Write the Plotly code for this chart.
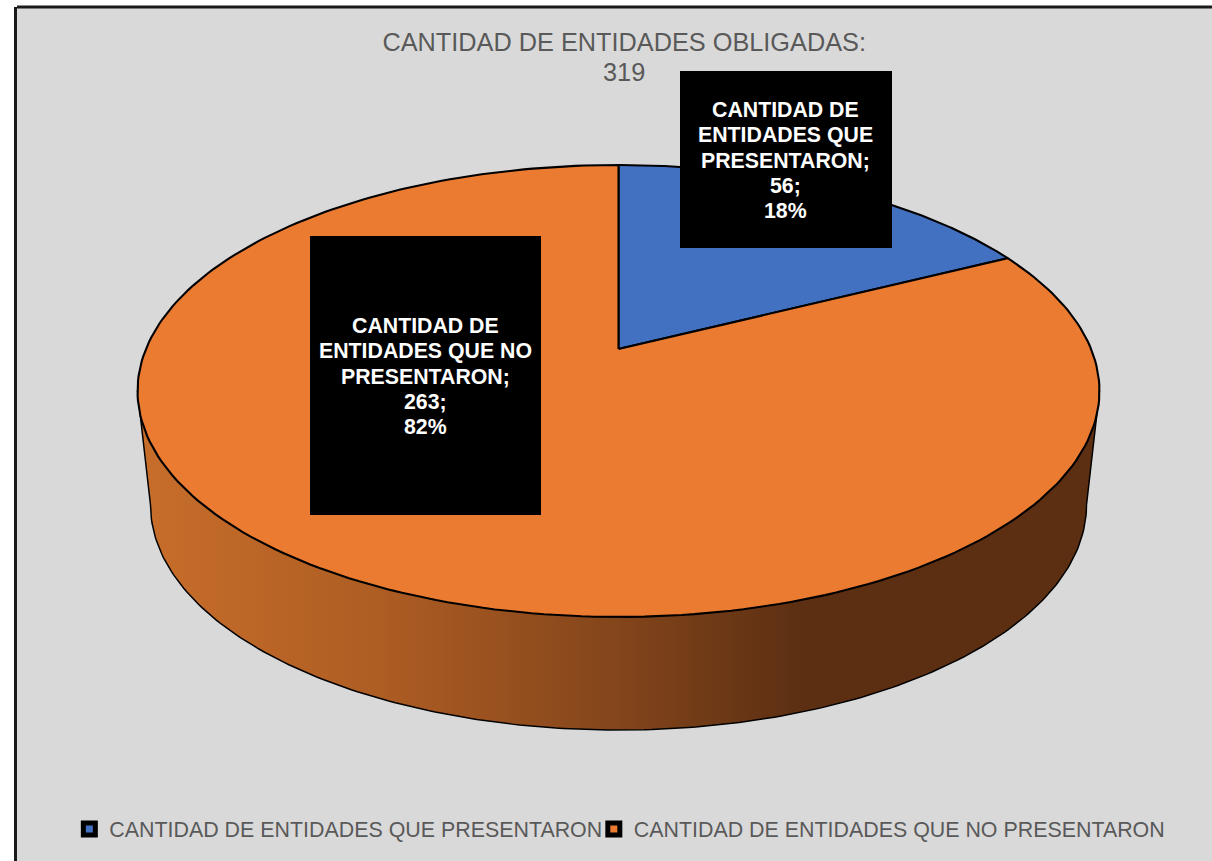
import numpy as np
import plotly.graph_objects as go

# --- data ---
title_text = "CANTIDAD DE ENTIDADES OBLIGADAS:"
categories = ["CANTIDAD DE ENTIDADES QUE PRESENTARON", "CANTIDAD DE ENTIDADES QUE NO PRESENTARON"]
values = [56, 263]
label_lines = [["CANTIDAD DE", "ENTIDADES QUE", "PRESENTARON;"],
               ["CANTIDAD DE", "ENTIDADES QUE NO", "PRESENTARON;"]]
colors = ["#4371C1", "#EB7B30"]

# --- drawing setup: a tilted disc seen in perspective ---
CX, CY, RA, RB, K = 618.5, 349.0, 472.6, 218.2, 0.1858
BOT_CX, BOT_CY, BOT_RX, BOT_RY = 618.5, 505.0, 468.0, 225.0
TOP_CY, TOP_RX = 391.0, 481.0
GREY, FRAME, TEXT = "#D9D9D9", "#1A1A1A", "#595959"
FONT = "Liberation Sans, Arial, sans-serif"


def rim(theta):
    """Theta is clockwise from the top, in radians; returns page-like coordinates."""
    u, v = np.sin(theta), np.cos(theta)
    d = 1 + K * v
    return CX + RA * u / d, CY - RB * v / d


total = sum(values)
shares = np.array(values) / total
edges = np.concatenate([[0], np.cumsum(shares)]) * 2 * np.pi

fig = go.Figure()

# side wall
t = np.linspace(np.pi, 0, 200)
wall_x = np.concatenate([BOT_CX + BOT_RX * np.cos(t), [CX + TOP_RX, CX - TOP_RX, BOT_CX - BOT_RX]])
wall_y = np.concatenate([BOT_CY + BOT_RY * np.sin(t), [TOP_CY, TOP_CY, BOT_CY]])
fig.add_trace(go.Scatter(
    x=wall_x, y=wall_y, mode="lines", fill="toself", hoverinfo="skip", showlegend=False,
    line=dict(color="#000000", width=1.5),
    fillgradient=dict(type="horizontal", colorscale=[
        [0.0, "#C86E2B"], [0.25, "#AE5D23"], [0.5, "#83451B"], [0.69, "#5C2F12"], [1.0, "#5C2F12"]]),
))

# top face slices
for i, (cat, col) in enumerate(zip(categories, colors)):
    th = np.linspace(edges[i], edges[i + 1], 240)
    rx, ry = rim(th)
    fig.add_trace(go.Scatter(
        x=np.concatenate([[CX], rx, [CX]]), y=np.concatenate([[CY], ry, [CY]]),
        mode="lines", fill="toself", fillcolor=col, name=cat,
        line=dict(color="#000000", width=2.1), showlegend=False,
        hovertemplate=f"{cat}: {values[i]}<extra></extra>",
    ))

# legend keys
legend_ids = ["legend", "legend2"]
for cat, col, lid in zip(categories, colors, legend_ids):
    fig.add_trace(go.Scatter(
        x=[None], y=[None], mode="markers", name=cat, legend=lid,
        marker=dict(symbol="square", size=12, color=col, line=dict(color="#000000", width=5)),
    ))

# data labels: black box plus one text per line
boxes = [(680, 71, 892, 248), (310, 236, 541, 515)]
LINE_STEP = 25.3
for lines, val, sh, (x0, y0, x1, y1) in zip(label_lines, values, shares, boxes):
    fig.add_shape(type="rect", xref="x", yref="y", x0=x0, x1=x1, y0=y0, y1=y1,
                  fillcolor="#000000", line=dict(width=0), layer="above")
    rows = lines + [f"{val};", f"{sh * 100:.0f}%"]
    mid_y = (y0 + y1) / 2 + 1
    for j, row in enumerate(rows):
        fig.add_annotation(x=(x0 + x1) / 2 - 0.5, y=mid_y + (j - (len(rows) - 1) / 2) * LINE_STEP,
                           text=f"<b>{row}</b>", showarrow=False, xanchor="center", yanchor="middle",
                           font=dict(family=FONT, size=21.3, color="#FFFFFF"))

# second line of the chart title: the total
fig.add_annotation(x=624, y=72, text=str(total), showarrow=False, xanchor="center", yanchor="middle",
                   font=dict(family=FONT, size=25.3, color=TEXT))

legend_style = dict(orientation="h", xref="paper", yref="paper", xanchor="left", yanchor="middle",
                    bgcolor="rgba(0,0,0,0)", font=dict(family=FONT, size=21.4, color=TEXT),
                    itemsizing="trace")
fig.update_layout(
    width=1212, height=861,
    margin=dict(l=17, t=7, r=0, b=0),
    paper_bgcolor="#FFFFFF", plot_bgcolor=GREY,
    title=dict(text=title_text, x=0.515, xanchor="center", y=0.9613,
               yanchor="top", font=dict(family=FONT, size=25.3, color=TEXT)),
    xaxis=dict(range=[17, 1212], showgrid=False, zeroline=False, showticklabels=False,
               ticks="", showline=False, fixedrange=True),
    yaxis=dict(range=[861, 7], showgrid=False, zeroline=False, showticklabels=False,
               ticks="", showline=True, linecolor=FRAME, linewidth=3, fixedrange=True),
    legend=dict(x=0.0438, y=0.0375, **legend_style),
    legend2=dict(x=0.4827, y=0.0375, **legend_style),
    showlegend=True,
)
fig.add_shape(type="line", xref="paper", yref="paper", x0=0, x1=1, y0=1, y1=1,
              line=dict(color=FRAME, width=3), layer="above")

fig.write_html("out.html", config=dict(displayModeBar=False),
               post_script="document.body.style.margin='0';document.body.style.overflow='hidden';")
